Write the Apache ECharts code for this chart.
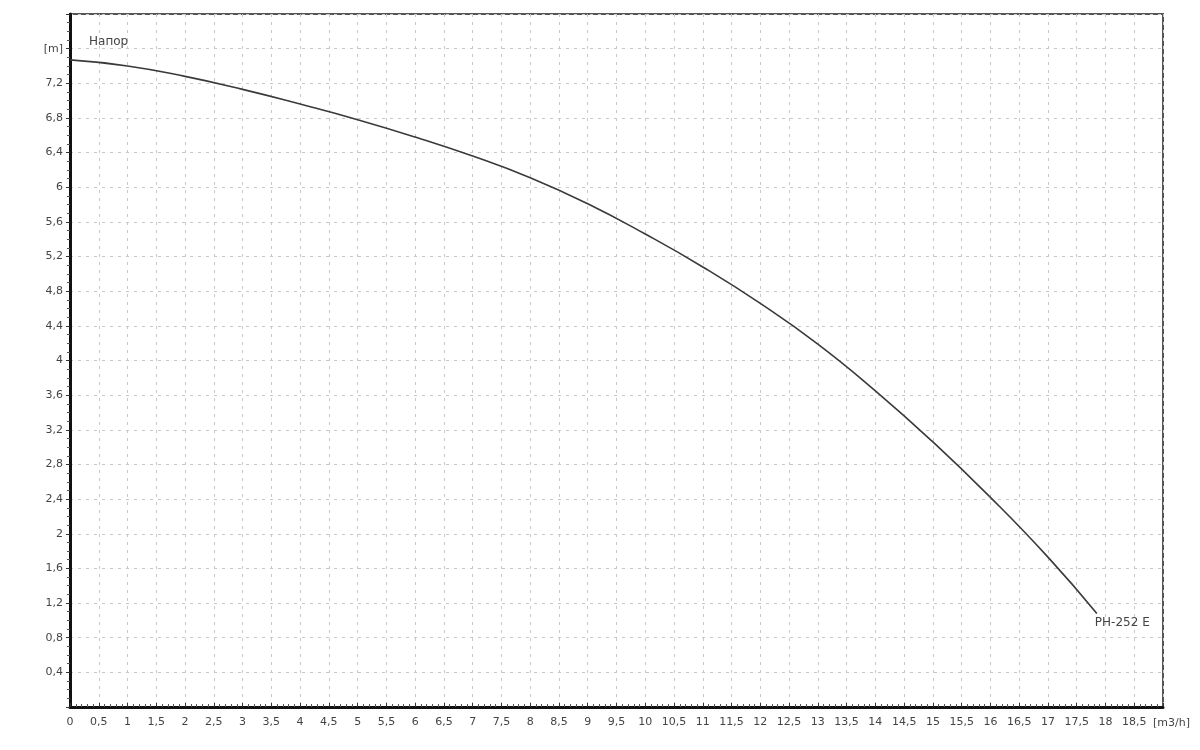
<!DOCTYPE html>
<html>
<head>
<meta charset="utf-8">
<script src="https://cdn.jsdelivr.net/npm/echarts@6/dist/echarts.min.js"></script>
<style>html,body{margin:0;padding:0;background:#fff}#c{width:1200px;height:750px}</style>
</head>
<body>
<div id="c"></div>
<script>
// Flow [m3/h] and head [m]
const flow = [0, 1, 2, 3, 4, 5, 6, 7, 8, 9, 10, 11, 12, 13, 14, 15, 16, 17, 17.85];
const head = [7.47, 7.40, 7.28, 7.13, 6.96, 6.78, 6.58, 6.36, 6.11, 5.81, 5.46, 5.08, 4.66, 4.19, 3.65, 3.06, 2.42, 1.73, 1.08];
const seriesName = 'PH-252 E';
const yTitle = 'Напор';
const yUnit = '[m]';
const xUnit = '[m3/h]';

const points = flow.map((f, i) => [f, head[i]]);
const fmt = v => String(Math.round(v * 10) / 10).replace('.', ',');
const font = '"DejaVu Sans", Verdana, sans-serif';

const chart = echarts.init(document.getElementById('c'));
chart.setOption({
  backgroundColor: '#fff',
  animation: false,
  title: {
    text: yTitle, left: 84, top: 31,
    textStyle: { fontSize: 12, fontWeight: 'normal', color: '#444', fontFamily: font }
  },
  graphic: [{
    type: 'text', left: 1153, top: 718,
    style: { text: xUnit, fill: '#444', fontSize: 11, fontFamily: font }
  }],
  grid: { left: 70, right: 37, top: 14, bottom: 43, show: true, borderColor: '#555', borderWidth: 2, backgroundColor: '#fff' },
  xAxis: {
    type: 'value', min: 0, max: 19, interval: 0.5,
    axisLine: { show: true, lineStyle: { color: '#111', width: 3 } },
    axisTick: { show: true, length: 4, inside: true, lineStyle: { color: '#333' } },
    minorTick: { show: true, splitNumber: 5, length: 3, lineStyle: { color: '#555' } },
    axisLabel: {
      color: '#444', fontSize: 11, fontFamily: font, margin: 10,
      showMinLabel: true, showMaxLabel: false, hideOverlap: false,
      formatter: v => (v >= 19 ? '' : fmt(v))
    },
    splitLine: { show: true, lineStyle: { color: '#c8c8c8', type: [3, 5], width: 1 } }
  },
  yAxis: {
    type: 'value', min: 0, max: 8, interval: 0.4,
    axisLine: { show: true, lineStyle: { color: '#111', width: 3 } },
    axisTick: { show: true, length: 4, lineStyle: { color: '#333' } },
    minorTick: { show: true, splitNumber: 4, length: 3, lineStyle: { color: '#555' } },
    axisLabel: {
      color: '#444', fontSize: 11, fontFamily: font, margin: 7,
      showMinLabel: false, showMaxLabel: false,
      formatter: v => (Math.abs(v - 7.6) < 1e-6 ? yUnit : fmt(v))
    },
    splitLine: { show: true, lineStyle: { color: '#c8c8c8', type: [3, 5], width: 1 } }
  },
  series: [{
    name: seriesName,
    type: 'line',
    data: points,
    smooth: 0.5,
    showSymbol: false,
    lineStyle: { color: '#3a3a3a', width: 1.6 },
    endLabel: {
      show: true, formatter: seriesName, offset: [-10, 9],
      color: '#444', fontSize: 12, fontFamily: font
    }
  }]
});
</script>
</body>
</html>
